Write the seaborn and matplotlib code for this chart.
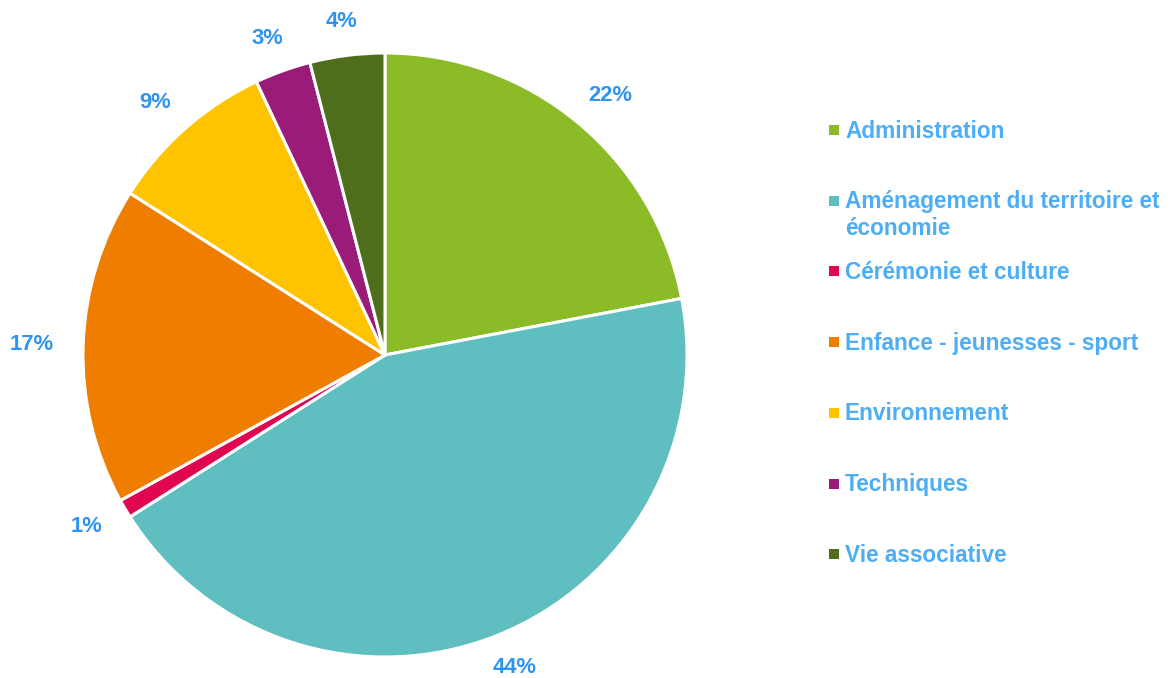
import numpy as np
import matplotlib
matplotlib.use("Agg")
import matplotlib.pyplot as plt
import seaborn as sns

# Share of each domain (percent)
categories = [
    "Administration",
    "Aménagement du territoire et\néconomie",
    "Cérémonie et culture",
    "Enfance - jeunesses - sport",
    "Environnement",
    "Techniques",
    "Vie associative",
]
shares = [22, 44, 1, 17, 9, 3, 4]
colors = ["#8BBB26", "#5FBEBF", "#E0064F", "#EE7D00", "#FFC300", "#9B1B78", "#4F6E1C"]

PCT_COLOR = "#2E94F2"
LEGEND_COLOR = "#4DAEF6"

sns.set_theme(style="white")
plt.rcParams["font.family"] = ["Liberation Sans", "DejaVu Sans"]

W, H = 1175, 678
fig = plt.figure(figsize=(W / 100, H / 100), dpi=100)
fig.patch.set_facecolor("white")

# square axes holding the pie (radius 1 in data units)
cx, cy, r = 385, 355, 302
ax = fig.add_axes([(cx - r) / W, (H - cy - r) / H, 2 * r / W, 2 * r / H])
wedges, _, autotexts = ax.pie(
    shares,
    colors=colors,
    startangle=90,
    counterclock=False,
    autopct="%1.0f%%",
    pctdistance=1.15,
    wedgeprops=dict(edgecolor="white", linewidth=2.2),
    textprops=dict(color=PCT_COLOR, fontsize=15.8, fontweight="bold"),
)
ax.set_xlim(-1, 1)
ax.set_ylim(-1, 1)
ax.set_aspect("equal")
ax.axis("off")

# place each percentage just outside its wedge: the label box sits
# beyond an anchor ring, pushed out by half its own size
fig.canvas.draw()
renderer = fig.canvas.get_renderer()
for w, t in zip(wedges, autotexts):
    ang = np.deg2rad((w.theta1 + w.theta2) / 2)
    c, s = np.cos(ang), np.sin(ang)
    bb = t.get_window_extent(renderer)
    half_w = (bb.width / 2 + 2) / r
    half_h = (bb.height / 2 + 1) / r
    t.set_position((1.09 * c + c * half_w, 1.075 * s + s * half_h))
    t.set_ha("center")
    t.set_va("center")

# legend column on the right
leg = fig.add_axes([0, 0, 1, 1], facecolor="none")
leg.set_xlim(0, W)
leg.set_ylim(H, 0)
leg.axis("off")
row0, step = 130, 70.7
for i, (name, col) in enumerate(zip(categories, colors)):
    y = row0 + i * step
    leg.scatter([834], [y], marker="s", s=44, color=col, linewidths=0)
    leg.text(845, y - 10.5, name, color=LEGEND_COLOR, fontsize=16.3,
             fontweight="bold", ha="left", va="top", linespacing=1.2)

fig.savefig("out.png", dpi=100, facecolor="white")
